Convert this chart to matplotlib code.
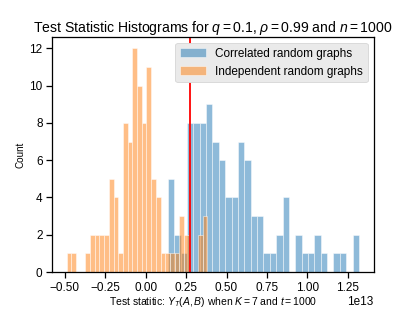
import numpy as np
import matplotlib
matplotlib.use('Agg')
import matplotlib.pyplot as plt

# counts per bin (30 bins each)
corr_counts = [5, 2, 1, 8, 8, 8, 9, 7, 6, 4, 4, 7, 6, 3, 3,
               1, 1, 2, 4, 0, 2, 1, 1, 2, 1, 0, 1, 1, 0, 2]
corr_range = (0.137e13, 1.319e13)

indep_counts = [1, 1, 0, 0, 1, 2, 2, 2, 2, 5, 4, 1, 8, 7, 12,
                10, 8, 11, 5, 4, 1, 1, 1, 1, 3, 2, 0, 0, 2, 3]
indep_range = (-0.489e13, 0.382e13)

threshold = 0.272e13

plt.rcParams['font.family'] = ['Liberation Sans', 'DejaVu Sans']
plt.rcParams['mathtext.fontset'] = 'custom'
plt.rcParams['mathtext.it'] = 'Liberation Sans:italic'
plt.rcParams['mathtext.rm'] = 'Liberation Sans'

fig = plt.figure(figsize=(6.4, 4.8), dpi=65)
ax = fig.add_axes([0.125, 0.128, 0.773, 0.753])

def draw(counts, rng, color, label):
    edges = np.linspace(rng[0], rng[1], len(counts) + 1)
    centers = (edges[:-1] + edges[1:]) / 2
    ax.hist(centers, bins=edges, weights=counts, color=color, alpha=0.5,
            edgecolor='white', linewidth=1, label=label)

draw(corr_counts, corr_range, '#1f77b4', 'Correlated random graphs')
draw(indep_counts, indep_range, '#ff7f0e', 'Independent random graphs')
ax.axvline(threshold, color='red', linewidth=2)

ax.set_title(r'Test Statistic Histograms for $q = 0.1$, $\rho = 0.99$ and $n = 1000$', fontsize=15.5)
ax.set_xlabel(r'Test statitic: $Y_T(A,B)$ when $K = 7$ and $t = 1000$', fontsize=11.5, labelpad=2)
ax.set_ylabel('Count', fontsize=11)
ax.set_xticks(np.arange(-0.5, 1.26, 0.25) * 1e13)
ax.set_yticks(range(0, 13, 2))
ax.tick_params(labelsize=13, length=7, width=1.4, direction='out')
ax.xaxis.get_offset_text().set_fontsize(13)
for s in ax.spines.values():
    s.set_linewidth(1.4)

leg = ax.legend(loc='upper right', fontsize=13, facecolor='#EAEAEA', framealpha=1,
                edgecolor='#D8D8D8', handlelength=2.2)

fig.savefig('out.png', dpi=65)
